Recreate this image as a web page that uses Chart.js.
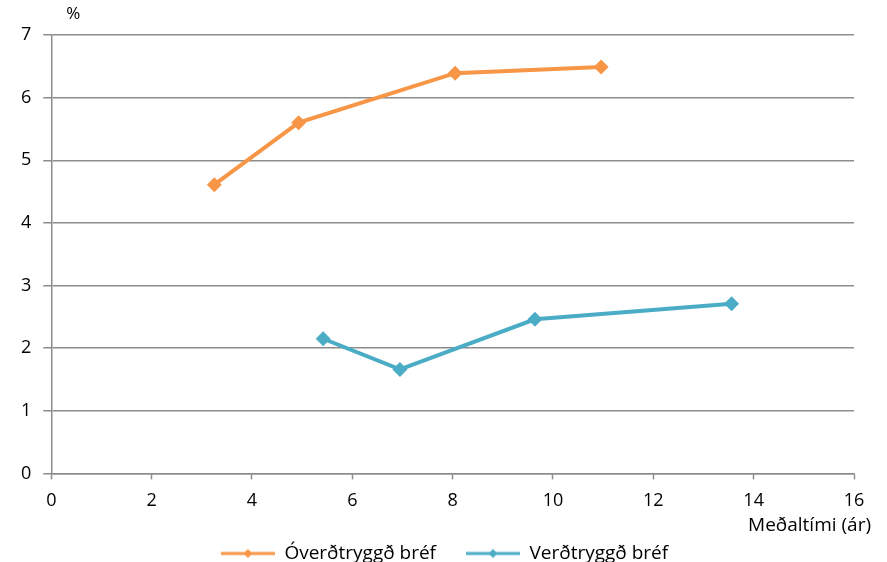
<!DOCTYPE html>
<html>
<head>
<meta charset="utf-8">
<script src="https://cdn.jsdelivr.net/npm/chart.js@4"></script>
<style>
  html, body { margin: 0; padding: 0; background: #fff; }
  #wrap { width: 887px; height: 562px; }
</style>
</head>
<body>
<div id="wrap"><canvas id="chart" width="887" height="562"></canvas></div>
<script>
// data
var overdtryggdX = [3.25, 4.93, 8.05, 10.96];
var overdtryggdY = [4.61, 5.60, 6.39, 6.49];
var verdtryggdX = [5.42, 6.95, 9.64, 13.56];
var verdtryggdY = [2.15, 1.66, 2.46, 2.71];
var seriesNames = ["Óverðtryggð bréf", "Verðtryggð bréf"];
var xTitle = "Meðaltími (ár)";
var yUnit = "%";

var orange = "#F79646";
var blue = "#4BACC6";
var gridGrey = "#8c8c8c";
var fontFamily = "'Open Sans', sans-serif";

function points(xs, ys) {
    return xs.map(function (x, i) { return { x: x, y: ys[i] }; });
}

// line + diamond picture for the legend, blank strip on the left gives the gap between items
function legendIcon(color) {
    var c = document.createElement("canvas");
    c.width = 80;
    c.height = 12;
    var g = c.getContext("2d");
    g.strokeStyle = color;
    g.lineWidth = 3;
    g.beginPath();
    g.moveTo(26, 6);
    g.lineTo(80, 6);
    g.stroke();
    g.fillStyle = color;
    g.beginPath();
    g.moveTo(53, 1.5);
    g.lineTo(57.5, 6);
    g.lineTo(53, 10.5);
    g.lineTo(48.5, 6);
    g.closePath();
    g.fill();
    return c;
}

// "%" over the y axis and the x axis title under the ticks
var axisTexts = {
    id: "axisTexts",
    afterDraw: function (chart) {
        var ctx = chart.ctx;
        var area = chart.chartArea;
        ctx.save();
        ctx.fillStyle = "#000";
        ctx.font = "17px " + fontFamily;
        ctx.textBaseline = "middle";
        ctx.textAlign = "center";
        ctx.fillText(yUnit, area.left + 22, area.top - 21);
        ctx.font = "19px " + fontFamily;
        ctx.textAlign = "right";
        ctx.fillText(xTitle, area.right + 17, area.bottom + 52);
        ctx.restore();
    }
};

var ctx = document.getElementById("chart");
new Chart(ctx, {
    type: "scatter",
    data: {
        datasets: [{
            label: seriesNames[0],
            data: points(overdtryggdX, overdtryggdY),
            showLine: true,
            borderColor: orange,
            backgroundColor: orange,
            borderWidth: 4,
            pointStyle: "rectRot",
            pointRadius: 7.5,
            pointBorderWidth: 0,
            pointIcon: legendIcon(orange)
        }, {
            label: seriesNames[1],
            data: points(verdtryggdX, verdtryggdY),
            showLine: true,
            borderColor: blue,
            backgroundColor: blue,
            borderWidth: 4,
            pointStyle: "rectRot",
            pointRadius: 7.5,
            pointBorderWidth: 0,
            pointIcon: legendIcon(blue)
        }]
    },
    options: {
        responsive: false,
        animation: false,
        layout: { padding: { left: 9, right: 33, top: 35, bottom: -11 } },
        plugins: {
            title: { display: false },
            tooltip: { enabled: false },
            legend: {
                position: "bottom",
                labels: {
                    usePointStyle: true,
                    pointStyleWidth: 80,
                    color: "#000",
                    font: { family: fontFamily, size: 19 },
                    padding: 4,
                    generateLabels: function (chart) {
                        return chart.data.datasets.map(function (ds, i) {
                            return {
                                text: ds.label,
                                pointStyle: ds.pointIcon,
                                fillStyle: ds.borderColor,
                                strokeStyle: ds.borderColor,
                                lineWidth: 0,
                                hidden: false,
                                datasetIndex: i
                            };
                        });
                    }
                }
            }
        },
        scales: {
            x: {
                type: "linear",
                min: 0,
                max: 16,
                ticks: {
                    stepSize: 2,
                    color: "#000",
                    padding: 11,
                    font: { family: fontFamily, size: 18 }
                },
                grid: {
                    drawOnChartArea: false,
                    drawTicks: true,
                    tickLength: 6,
                    tickColor: gridGrey,
                    tickWidth: 1.5
                },
                border: { display: true, color: gridGrey, width: 1.5 },
                afterFit: function (scale) { scale.height += 17; }
            },
            y: {
                min: 0,
                max: 7,
                ticks: {
                    stepSize: 1,
                    color: "#000",
                    padding: 12,
                    font: { family: fontFamily, size: 18 }
                },
                grid: {
                    color: gridGrey,
                    lineWidth: 1.5,
                    tickLength: 8,
                    tickColor: gridGrey
                },
                border: { display: true, color: gridGrey, width: 1.5 }
            }
        }
    },
    plugins: [axisTexts]
});
</script>
</body>
</html>
